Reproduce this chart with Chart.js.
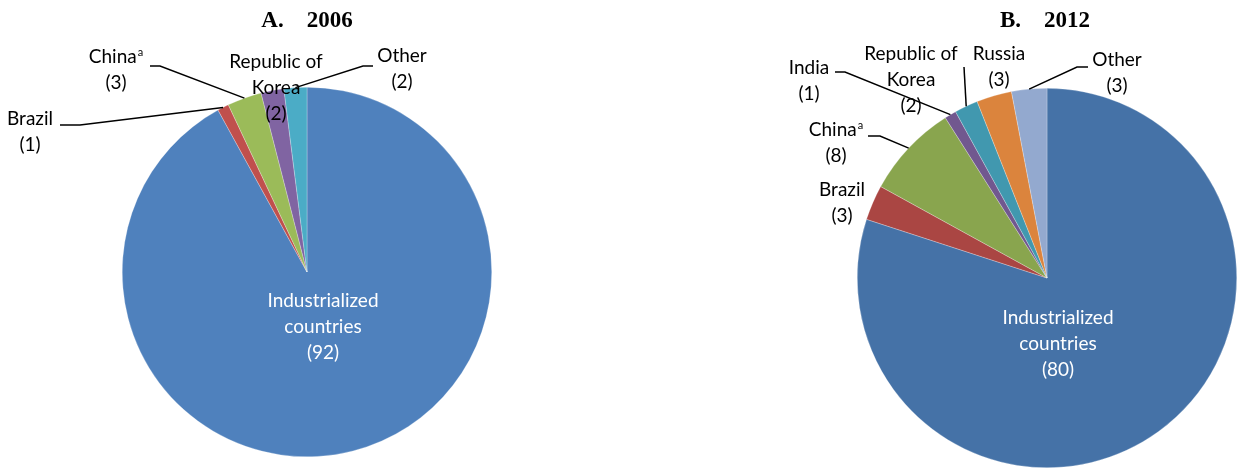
<!DOCTYPE html>
<html>
<head>
<meta charset="utf-8">
<script src="https://cdn.jsdelivr.net/npm/chart.js@4.4.0/dist/chart.umd.min.js"></script>
<style>
    body { margin: 0; background: #fff; }
    #wrap { position: relative; width: 1237px; height: 471px; }
    .box { position: absolute; top: 0; height: 471px; }
</style>
</head>
<body>
<div id="wrap">
    <div class="box" style="left:0;width:618px"><canvas id="pie2006"></canvas></div>
    <div class="box" style="left:618px;width:619px"><canvas id="pie2012"></canvas></div>
</div>
<script>
// 2006 shares (%)
var wLabels2006 = ['Industrialized\ncountries', 'Brazil', 'China', 'Republic of\nKorea', 'Other']
var wValues2006 = [92, 1, 3, 2, 2]
var wNotes2006 = ['', '', 'a', '', '']
var wColors2006 = ['#4F81BD', '#C0504D', '#9BBB59', '#8064A2', '#4BACC6']

// 2012 shares (%)
var wLabels2012 = ['Industrialized\ncountries', 'Brazil', 'China', 'India', 'Republic of\nKorea', 'Russia', 'Other']
var wValues2012 = [80, 3, 8, 1, 2, 3, 3]
var wNotes2012 = ['', '', 'a', '', '', '', '']
var wColors2012 = ['#4572A7', '#AA4643', '#89A54E', '#71588F', '#4198AF', '#DB843D', '#93A9CF']

// label placement: x = centre of text block, y = middle of first line,
// leader = points from the label towards the slice (slice end added at draw time)
var wPlace2006 = [
    { x: 323, y: 301, color: '#fff' },
    { x: 30, y: 119, leader: [[60, 125], [80, 125]] },
    { x: 116, y: 57, leader: [[150, 66], [160, 66]] },
    { x: 276, y: 62 },
    { x: 402, y: 56, leader: [[373, 66], [363, 66]] }
]
var wPlace2012 = [
    { x: 440, y: 318, color: '#fff' },
    { x: 224, y: 190 },
    { x: 218, y: 130, leader: [[250, 136], [262, 136]] },
    { x: 191, y: 68, leader: [[217, 72], [227, 72]] },
    { x: 293, y: 54, leader: [[346, 67]] },
    { x: 381, y: 54 },
    { x: 499, y: 60, leader: [[470, 67], [459, 67]] }
]

var wFont = 'Lato, "Noto Sans", sans-serif'
var wFontSize = 19
var wLineH = 26

function drawLabel(ctx, place, name, value, note) {
    var lines = name.split('\n')
    lines.push('(' + value + ')')
    ctx.fillStyle = place.color || '#000'
    ctx.textBaseline = 'middle'
    ctx.textAlign = 'left'
    lines.forEach((txt, i) => {
        var y = place.y + i * wLineH
        ctx.font = wFontSize + 'px ' + wFont
        var w = ctx.measureText(txt).width
        var sw = 0
        if (note && i == lines.length - 2) {
            ctx.font = Math.round(wFontSize * 0.6) + 'px ' + wFont
            sw = ctx.measureText(note).width + 1
        }
        var x0 = place.x - (w + sw) / 2
        ctx.font = wFontSize + 'px ' + wFont
        ctx.fillText(txt, x0, y)
        if (sw) {
            ctx.font = Math.round(wFontSize * 0.6) + 'px ' + wFont
            ctx.fillText(note, x0 + w + 1, y - 5)
        }
    })
}

var calloutPlugin = {
    id: 'callouts',
    afterDraw(chart, args, opts) {
        var ctx = chart.ctx
        var meta = chart.getDatasetMeta(0)
        var ds = chart.data.datasets[0]
        ctx.save()

        // title
        ctx.font = 'bold 23px "Liberation Serif", "Times New Roman", serif'
        ctx.fillStyle = '#000'
        ctx.textAlign = 'center'
        ctx.textBaseline = 'alphabetic'
        ctx.fillText(opts.title, opts.titleX, 27)

        meta.data.forEach((arc, i) => {
            var place = opts.places[i]
            if (place.leader) {
                var mid = (arc.startAngle + arc.endAngle) / 2
                var ex = arc.x + Math.cos(mid) * arc.outerRadius
                var ey = arc.y + Math.sin(mid) * arc.outerRadius
                ctx.beginPath()
                ctx.moveTo(place.leader[0][0], place.leader[0][1])
                for (var k = 1; k < place.leader.length; k++) ctx.lineTo(place.leader[k][0], place.leader[k][1])
                ctx.lineTo(ex, ey)
                ctx.strokeStyle = '#000'
                ctx.lineWidth = 1.5
                ctx.stroke()
            }
            drawLabel(ctx, place, chart.data.labels[i], ds.data[i], opts.notes[i])
        })
        ctx.restore()
    }
}

function makePie(id, labels, values, colors, notes, places, title, titleX, padding) {
    var ctx = document.getElementById(id).getContext('2d')
    return new Chart(ctx, {
        type: 'pie',
        data: {
            labels: labels,
            datasets: [{
                data: values,
                backgroundColor: colors,
                borderColor: 'rgba(255,255,255,0.5)',
                borderWidth: 0.5,
                hoverOffset: 0
            }]
        },
        options: {
            responsive: true,
            maintainAspectRatio: false,
            animation: false,
            layout: { padding: padding },
            plugins: {
                legend: { display: false },
                tooltip: { enabled: false },
                callouts: { places: places, notes: notes, title: title, titleX: titleX }
            }
        },
        plugins: [calloutPlugin]
    })
}

makePie('pie2006', wLabels2006, wValues2006, wColors2006, wNotes2006, wPlace2006,
    'A.    2006', 307, { top: 87, bottom: 14, left: 122, right: 126 })
makePie('pie2012', wLabels2012, wValues2012, wColors2012, wNotes2012, wPlace2012,
    'B.    2012', 427, { top: 88, bottom: 3, left: 239, right: 0 })
</script>
</body>
</html>
